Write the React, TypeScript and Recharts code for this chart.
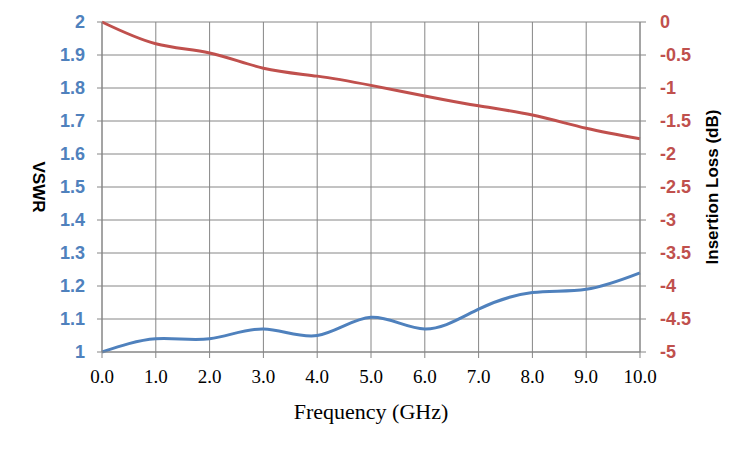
import { CartesianGrid, Line, LineChart, XAxis, YAxis } from 'recharts';

const freqs = [0, 1, 2, 3, 4, 5, 6, 7, 8, 9, 10];
const vswr = [1.0, 1.04, 1.04, 1.07, 1.05, 1.105, 1.07, 1.13, 1.18, 1.19, 1.24];
const insertionLoss = [0, -0.33, -0.47, -0.7, -0.82, -0.96, -1.12, -1.27, -1.41, -1.61, -1.77];

const vswrTicks = [1, 1.1, 1.2, 1.3, 1.4, 1.5, 1.6, 1.7, 1.8, 1.9, 2];
const lossTicks = [-5, -4.5, -4, -3.5, -3, -2.5, -2, -1.5, -1, -0.5, 0];

const BLUE = '#4F81BD';
const RED = '#C0504D';
const GRID = '#868686';
const SANS = '"Liberation Sans", Arial, sans-serif';
const SERIF = '"Liberation Serif", serif';

const data = freqs.map((f, i) => ({ f, vswr: vswr[i], loss: insertionLoss[i] }));

export default function App() {
  return (
    <div style={{ position: 'absolute', left: 0, top: 0 }}>
      <LineChart
        width={750}
        height={450}
        data={data}
        margin={{ top: 22, right: 50, left: 42, bottom: 68 }}
      >
        <CartesianGrid stroke={GRID} yAxisId="left" />
        <XAxis
          dataKey="f"
          type="number"
          domain={[0, 10]}
          ticks={freqs}
          tickFormatter={(v: number) => v.toFixed(1)}
          height={30}
          stroke={GRID}
          tickSize={6}
          tickMargin={12}
          tick={{ fill: '#000', fontFamily: SERIF, fontSize: 19 }}
          label={{
            content: ({ viewBox }: any) => (
              <text
                x={viewBox.x + viewBox.width / 2}
                y={viewBox.y + 59}
                textAnchor="middle"
                dominantBaseline="central"
                fontFamily={SERIF}
                fontSize={22}
                fill="#000"
              >
                Frequency (GHz)
              </text>
            ),
          }}
        />
        <YAxis
          yAxisId="left"
          domain={[1, 2]}
          ticks={vswrTicks}
          width={60}
          stroke={GRID}
          tickSize={5}
          tickMargin={12}
          tickFormatter={(v: number) => String(v)}
          tick={{ fill: BLUE, fontFamily: SANS, fontSize: 18, fontWeight: 'bold' }}
          label={{
            content: ({ viewBox }: any) => {
              const cx = viewBox.x - 4;
              const cy = viewBox.y + viewBox.height / 2;
              return (
                <text
                  x={cx}
                  y={cy}
                  transform={`rotate(90, ${cx}, ${cy})`}
                  textAnchor="middle"
                  dominantBaseline="central"
                  fontFamily={SANS}
                  fontSize={17}
                  fontWeight="bold"
                  fill="#000"
                >
                  VSWR
                </text>
              );
            },
          }}
        />
        <YAxis
          yAxisId="right"
          orientation="right"
          domain={[-5, 0]}
          ticks={lossTicks}
          width={60}
          stroke={GRID}
          tickSize={6}
          tickMargin={14}
          tickFormatter={(v: number) => String(v)}
          tick={{ fill: RED, fontFamily: SANS, fontSize: 18, fontWeight: 'bold', textAnchor: 'start' }}
          label={{
            content: ({ viewBox }: any) => {
              const cx = viewBox.x + 72;
              const cy = viewBox.y + viewBox.height / 2;
              return (
                <text
                  x={cx}
                  y={cy}
                  transform={`rotate(-90, ${cx}, ${cy})`}
                  textAnchor="middle"
                  dominantBaseline="central"
                  fontFamily={SANS}
                  fontSize={17}
                  fontWeight="bold"
                  fill="#000"
                >
                  Insertion Loss (dB)
                </text>
              );
            },
          }}
        />
        <Line
          yAxisId="right"
          dataKey="loss"
          type="natural"
          stroke={RED}
          strokeWidth={3}
          dot={false}
          isAnimationActive={false}
        />
        <Line
          yAxisId="left"
          dataKey="vswr"
          type="natural"
          stroke={BLUE}
          strokeWidth={3}
          dot={false}
          isAnimationActive={false}
        />
      </LineChart>
    </div>
  );
}
